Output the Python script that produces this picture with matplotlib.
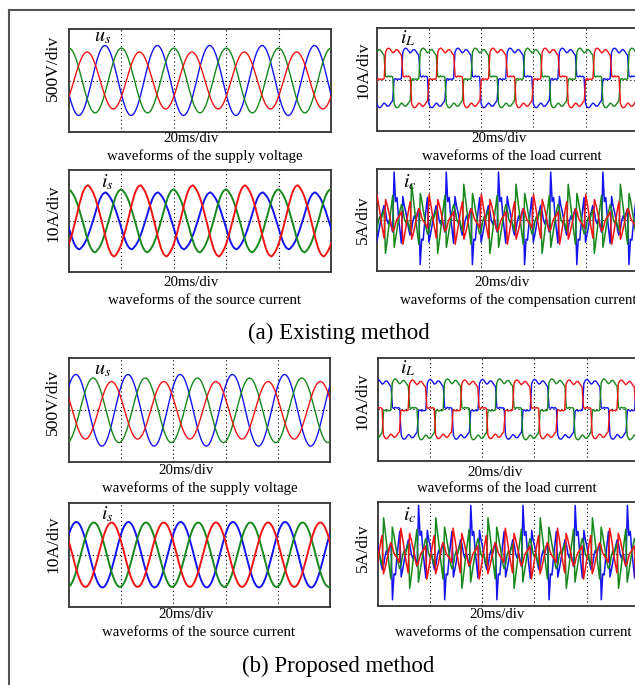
import numpy as np
import matplotlib.pyplot as plt
from matplotlib.lines import Line2D

plt.rcParams['font.family'] = ['Liberation Serif', 'DejaVu Serif']
plt.rcParams['mathtext.fontset'] = 'stix'

W, H = 635, 685
PERIOD = 20.0   # ms, one mains cycle
SPAN = 100.0    # ms, 5 div of 20 ms

# one cycle, 36 samples (10 deg each), starting at the positive peak
SINE_CYCLE = [1.0, 0.985, 0.94, 0.866, 0.766, 0.643, 0.5, 0.342, 0.174,
              0.0, -0.174, -0.342, -0.5, -0.643, -0.766, -0.866, -0.94, -0.985,
              -1.0, -0.985, -0.94, -0.866, -0.766, -0.643, -0.5, -0.342, -0.174,
              0.0, 0.174, 0.342, 0.5, 0.643, 0.766, 0.866, 0.94, 0.985]
# existing method source current, slightly pointed / kinked
SRC_OLD_CYCLE = [1.0, 0.96, 0.9, 0.83, 0.74, 0.63, 0.5, 0.36, 0.2,
                 0.03, -0.12, -0.3, -0.47, -0.62, -0.76, -0.86, -0.94, -0.98,
                 -1.0, -0.96, -0.9, -0.83, -0.74, -0.63, -0.5, -0.36, -0.2,
                 -0.03, 0.12, 0.3, 0.47, 0.62, 0.76, 0.86, 0.94, 0.98]
# rectifier load current, starting where the positive block begins
LOAD_CYCLE = [0.86, 0.97, 1.0, 0.97, 0.9, 0.84, 0.87, 0.94, 0.95, 0.9, 0.82, 0.76,
              0.06, 0.03, 0.07, 0.04, 0.06, 0.03,
              -0.86, -0.97, -1.0, -0.97, -0.9, -0.84, -0.87, -0.94, -0.95, -0.9, -0.82, -0.76,
              -0.05, -0.02, -0.06, -0.03, -0.05, -0.02]
# compensation current (A), same alignment as LOAD_CYCLE
IC_CYCLE_B = [2.3, 1.4, 0.8, 0.0, -0.9, -1.5, -1.0, -0.1, 0.4, 0.0, 0.7, 1.1,
              -4.4, -1.9, -2.0, -0.4, 1.0, 2.2,
              -2.2, -1.5, -0.7, 0.2, 0.8, 1.4, 0.9, 0.0, -0.4, 0.1, -0.6, -1.2,
              4.7, 1.8, 2.2, 0.3, -1.0, -2.3]
IC_CYCLE_G = [2.6, 1.9, 1.0, 0.2, -0.8, -1.4, -1.1, -0.2, 0.3, 0.0, 0.6, 1.0,
              -3.3, -2.2, -1.0, 0.2, 1.3, 2.4,
              -2.7, -1.8, -0.9, 0.0, 0.9, 1.5, 1.0, 0.1, -0.3, 0.0, -0.6, -1.1,
              3.5, 2.3, 1.1, -0.1, -1.3, -2.4]
IC_CYCLE_R = [2.0, 1.5, 0.9, 0.2, -0.6, -1.1, -0.9, -0.3, 0.1, 0.3, 0.5, 0.8,
              -2.4, -1.6, -0.7, 0.2, 1.1, 1.8,
              -1.9, -1.4, -0.8, -0.1, 0.6, 1.1, 0.8, 0.2, -0.1, -0.3, -0.5, -0.8,
              2.5, 1.7, 0.8, -0.2, -1.0, -1.8]

# phase order everywhere: blue, green, red
COLORS = ['#1414f0', '#17881c', '#f01414']

US_AMP_OLD = [340, 315, 277]      # V
US_T0_OLD = [13.7, 0.0, 6.9]      # ms, time of positive peak
US_AMP_NEW = [345, 311, 277]
US_T0_NEW = [2.6, 9.2, 16.3]

IS_AMP_OLD = [5.6, 6.2, 7.0]      # A
IS_T0_OLD = [14.0, 0.0, 7.3]
IS_AMP_NEW = [6.3, 6.2, 6.2]
IS_T0_NEW = [2.8, 9.5, 16.3]

IL_AMP_OLD = [5.8, 5.8, 5.8]      # A
IL_T0_OLD = [10.0, -3.3, 3.4]     # ms, start of positive block
IL_OFS_OLD = 0.3
IL_AMP_NEW = [5.8, 5.9, 5.7]
IL_T0_NEW = [-1.0, 5.6, 12.2]
IL_OFS_NEW = 0.0

IC_CYCLES = [IC_CYCLE_B, IC_CYCLE_G, IC_CYCLE_R]


def trace(cycle, amp, t0, ofs=0.0):
    c = np.asarray(cycle, dtype=float)
    n = len(c)
    k = np.arange(-n, 7 * n)
    t = t0 + k * PERIOD / n
    return t, amp * np.tile(c, 8) + ofs


def fx(x):
    return x / W


def fy(y):
    return 1 - y / H


fig = plt.figure(figsize=(W / 100, H / 100), dpi=100)


def panel(l, t, r, b, scale, series, lw):
    ax = fig.add_axes([fx(l), fy(b), (r - l) / W, (b - t) / H])
    for (tt, yy), col in zip(series, COLORS):
        ax.plot(tt, yy, color=col, lw=lw, zorder=3)
    for xv in [20, 40, 60, 80]:
        ax.axvline(xv, color='k', lw=0.8, ls=(0, (1, 2.5)), zorder=1)
    ax.axhline(0, color='k', lw=0.8, ls=(0, (1, 2.5)), zorder=1)
    ax.set_xlim(0, SPAN)
    ax.set_ylim(-scale, scale)
    ax.set_xticks([])
    ax.set_yticks([])
    for s in ax.spines.values():
        s.set_color('#333333')
        s.set_linewidth(1.3)
    return ax


def txt(x, y, s, size=10.7, rot=0, ha='center'):
    fig.text(fx(x), fy(y), s, fontsize=size, rotation=rot, ha=ha, va='center')


# ---- (a) existing method ----
panel(69, 29, 331, 132, 500,
      [trace(SINE_CYCLE, a, t0) for a, t0 in zip(US_AMP_OLD, US_T0_OLD)], 1.0)
panel(376.7, 28, 637.7, 131, 10,
      [trace(LOAD_CYCLE, a, t0, IL_OFS_OLD) for a, t0 in zip(IL_AMP_OLD, IL_T0_OLD)], 1.0)
panel(69, 170, 331, 271.7, 10,
      [trace(SRC_OLD_CYCLE, a, t0) for a, t0 in zip(IS_AMP_OLD, IS_T0_OLD)], 1.4)
panel(376.7, 169, 637.7, 270.7, 5,
      [trace(c, 1.0, t0) for c, t0 in zip(IC_CYCLES, IL_T0_OLD)], 1.1)

# ---- (b) proposed method ----
panel(69, 358.3, 330, 462.3, 500,
      [trace(SINE_CYCLE, a, t0) for a, t0 in zip(US_AMP_NEW, US_T0_NEW)], 1.0)
panel(377.7, 357.7, 638.7, 461, 10,
      [trace(LOAD_CYCLE, a, t0, IL_OFS_NEW) for a, t0 in zip(IL_AMP_NEW, IL_T0_NEW)], 1.0)
panel(69, 502.7, 330, 606.7, 10,
      [trace(SINE_CYCLE, a, t0) for a, t0 in zip(IS_AMP_NEW, IS_T0_NEW)], 1.4)
panel(377.7, 502.3, 638.7, 606, 5,
      [trace(c, 1.0, t0) for c, t0 in zip(IC_CYCLES, IL_T0_NEW)], 1.1)

# axis scale labels
for x, y, s in [(53, 68, '500V/div'), (363, 70, '10A/div'),
                (53, 213, '10A/div'), (363, 220, '5A/div'),
                (53, 402, '500V/div'), (362, 401, '10A/div'),
                (53, 544, '10A/div'), (363, 548, '5A/div')]:
    txt(x, y, s, size=12.6, rot=90)

# waveform names
for x, y, s in [(103, 37, '$u_s$'), (408, 38, '$i_L$'),
                (107, 182, '$i_s$'), (410, 182, '$i_c$'),
                (103, 370, '$u_s$'), (408, 368, '$i_L$'),
                (107, 514, '$i_s$'), (410, 515, '$i_c$')]:
    txt(x, y, s, size=14.5)

# time base
for x, y in [(191, 139), (499.5, 139), (191, 283), (502.5, 283),
             (186, 471), (494.7, 472), (186, 614), (497, 614)]:
    txt(x, y, '20ms/div')

txt(204.5, 156, 'waveforms of the supply voltage')
txt(511.7, 156, 'waveforms of the load current')
txt(204, 300, 'waveforms of the source current')
txt(400, 300, 'waveforms of the compensation current', ha='left')
txt(199.5, 488, 'waveforms of the supply voltage')
txt(507, 488.3, 'waveforms of the load current')
txt(199, 632.3, 'waveforms of the source current')
txt(513.5, 632, 'waveforms of the compensation current')

txt(338.5, 333, '(a) Existing method', size=16.5)
txt(338, 666, '(b) Proposed method', size=16.5)

# outer frame (top and left edges visible)
fig.add_artist(Line2D([fx(9), fx(9)], [fy(10), fy(685)], color='#555555', lw=1.5))
fig.add_artist(Line2D([fx(9), fx(635)], [fy(10), fy(10)], color='#555555', lw=1.5))

fig.savefig('out.png', dpi=100)
